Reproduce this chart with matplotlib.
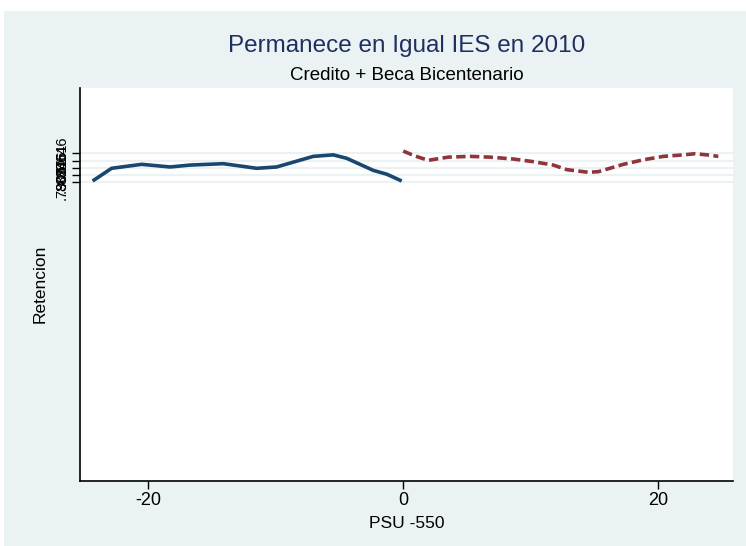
import numpy as np
import matplotlib.pyplot as plt
from matplotlib.patches import Rectangle

plt.rcParams['font.family'] = ['Liberation Sans', 'DejaVu Sans']

# left of the cutoff (solid)
x_left = [-24.34, -22.85, -20.49, -18.27, -16.71, -14.09, -11.47, -9.91,
          -7.04, -5.47, -4.42, -2.33, -1.28, -0.10]
y_left = [0.792, 0.8255, 0.836, 0.829, 0.834, 0.8377, 0.8255, 0.829,
          0.857, 0.861, 0.852, 0.820, 0.810, 0.792]

# right of the cutoff (dashed)
x_right = [0.02, 0.94, 1.98, 3.55, 5.25, 6.82, 8.65, 10.22, 11.79, 12.84,
           14.53, 15.32, 17.28, 18.85, 20.42, 21.98, 22.90, 23.82, 24.73]
y_right = [0.871, 0.858, 0.8466, 0.855, 0.857, 0.855, 0.850, 0.843, 0.834,
           0.822, 0.815, 0.8166, 0.836, 0.848, 0.857, 0.861, 0.864, 0.861,
           0.857]

y_ticks = [0.7906, 0.8091, 0.8276, 0.8461, 0.8646]
y_tick_labels = ['.7906', '.8091', '.8276', '.8461', '.8646']
x_ticks = [-20, 0, 20]

bg = '#EAF2F3'
fig = plt.figure(figsize=(7.46, 5.46), dpi=100)
fig.patch.set_facecolor('white')
W, H = 746, 546
fig.patches.append(Rectangle((4 / W, 0), 1 - 4 / W, 1 - 11 / H,
                             transform=fig.transFigure, facecolor=bg,
                             edgecolor='none', zorder=-10))

ax = fig.add_axes([80 / W, 1 - 481 / H, (733 - 80) / W, (481 - 88) / H])
ax.set_facecolor('white')

ax.plot(x_left, y_left, color='#1A476F', lw=2.6, solid_capstyle='butt',
        solid_joinstyle='round', zorder=3)
ax.plot(x_right, y_right, color='#90353B', lw=2.6, linestyle=(0, (2.6, 1.2)),
        zorder=3)

ax.set_xlim(-25.33, 25.88)
ax.set_ylim(0, 1.0375)
ax.set_xticks(x_ticks)
ax.set_xticklabels(['-20', '0', '20'], fontsize=13)
ax.set_yticks(y_ticks)
ax.set_yticklabels(y_tick_labels, fontsize=10.5, rotation=90, va='center')
for y in y_ticks:
    ax.axhline(y, color=bg, lw=1.5, zorder=1)

for s in ['top', 'right']:
    ax.spines[s].set_visible(False)
for s in ['left', 'bottom']:
    ax.spines[s].set_linewidth(1.2)
ax.tick_params(direction='out', length=6, width=1, pad=2)

ax.set_xlabel('PSU -550', fontsize=12.5, va='center')
ax.xaxis.set_label_coords(0.5, (481 - 523) / 393)
ax.set_ylabel('Retencion', fontsize=12.5, va='center')
ax.yaxis.set_label_coords((40 - 80) / 653, (481 - 284) / 393)

fig.text(406.5 / W, 1 - 46 / H, 'Permanece en Igual IES en 2010',
         ha='center', va='center', fontsize=17.5, color='#1F3060')
fig.text(406.5 / W, 1 - 75 / H, 'Credito + Beca Bicentenario',
         ha='center', va='center', fontsize=13.5, color='black')

fig.savefig('out.png', dpi=100, facecolor=fig.get_facecolor())
